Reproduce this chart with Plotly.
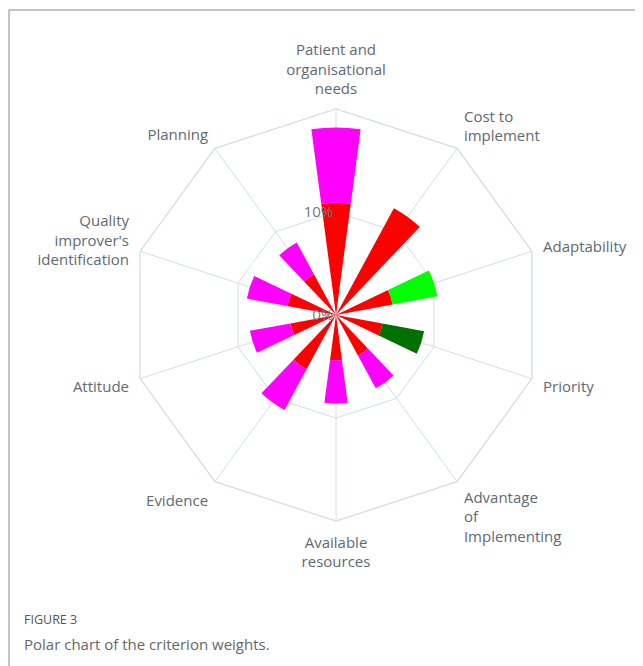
import plotly.graph_objects as go

categories = [
    "Patient and<br>organisational<br>needs",
    "Cost to<br>implement",
    "Adaptability",
    "Priority",
    "Advantage<br>of<br>Implementing",
    "Available<br>resources",
    "Evidence",
    "Attitude",
    "Quality<br>improver's<br>identification",
    "Planning",
]
inner_values = [10.9, 11.8, 5.6, 4.6, 4.5, 4.4, 6.0, 4.5, 4.8, 4.5]
outer_values = [7.3, 0.0, 4.4, 4.1, 3.6, 4.2, 4.5, 4.0, 4.0, 3.5]
inner_color = "#ff0000"
outer_colors = ["#ff00ff", "#ff00ff", "#00ff00", "#007000", "#ff00ff",
                "#ff00ff", "#ff00ff", "#ff00ff", "#ff00ff", "#ff00ff"]
radial_ticks = [0, 10]
radial_ticktext = ["0%", "10%"]
r_max = 20
bar_width = 0.42  # in category units

grid = "#d3dee4"
txt = "#5f6972"

# page body has an 8px default margin: work in reference pixels, shift by 8
OFF = 8
W, H = 643 - OFF, 666 - OFF
def px(x):
    return (x - OFF) / W
def py(y):
    return 1 - (y - OFF) / H

fig = go.Figure()
# underlying polar subplot carrying the decagon grid and category labels
fig.add_trace(go.Scatterpolar(r=inner_values, theta=categories, mode="markers",
                              marker=dict(size=0.1, opacity=0),
                              hoverinfo="skip", showlegend=False, subplot="polar"))
# bars on a transparent polar subplot on top
fig.add_trace(go.Barpolar(r=inner_values, theta=categories, width=bar_width,
                          marker=dict(color=inner_color, line=dict(width=0)),
                          showlegend=False, subplot="polar2"))
fig.add_trace(go.Barpolar(r=outer_values, theta=categories, width=bar_width,
                          base=inner_values,
                          marker=dict(color=outer_colors, line=dict(width=0)),
                          showlegend=False, subplot="polar2"))

cx, cy, R = 336, 315, 206
dom = dict(x=[px(cx - R), px(cx + R)], y=[py(cy + R), py(cy - R)])
fig.update_layout(
    width=W, height=H,
    margin=dict(l=0, r=0, t=0, b=0),
    paper_bgcolor="white",
    font=dict(family="Open Sans", color=txt),
    polar=dict(
        domain=dom,
        bgcolor="white",
        gridshape="linear",
        angularaxis=dict(
            direction="clockwise", rotation=90,
            showline=True, linecolor=grid, linewidth=1.3,
            showgrid=True, gridcolor=grid, gridwidth=1.3,
            ticks="outside", ticklen=8, tickcolor="rgba(0,0,0,0)",
            tickfont=dict(size=15, color=txt, family="Open Sans"),
        ),
        radialaxis=dict(
            range=[0, r_max], tickvals=radial_ticks, showticklabels=False,
            angle=90, showline=False, showgrid=True, gridcolor=grid, gridwidth=1.3,
            ticks="",
        ),
    ),
    polar2=dict(
        domain=dom,
        bgcolor="rgba(0,0,0,0)",
        barmode="overlay",
        angularaxis=dict(
            direction="clockwise", rotation=90,
            showline=False, showgrid=False, showticklabels=False, ticks="",
        ),
        radialaxis=dict(
            range=[0, r_max], tickvals=radial_ticks, ticktext=radial_ticktext,
            angle=90, side="counterclockwise", tickangle=90,
            showline=False, showgrid=False, ticks="",
            tickfont=dict(size=15, color="#6b7680", family="Open Sans"),
        ),
    ),
    shapes=[dict(type="rect", xref="paper", yref="paper",
                 x0=px(9), x1=1.05, y0=-0.05, y1=py(10),
                 line=dict(color="#8a8a8a", width=1), fillcolor="rgba(0,0,0,0)")],
    annotations=[
        dict(text="FIGURE 3", xref="paper", yref="paper", x=px(22), y=py(619),
             xanchor="left", yanchor="middle", showarrow=False,
             font=dict(family="Open Sans", size=12.5, color="#555555")),
        dict(text="Polar chart of the criterion weights.", xref="paper", yref="paper",
             x=px(22), y=py(644), xanchor="left", yanchor="middle", showarrow=False,
             font=dict(family="Open Sans", size=15, color="#666666")),
    ],
)

fig.write_html("out.html")
